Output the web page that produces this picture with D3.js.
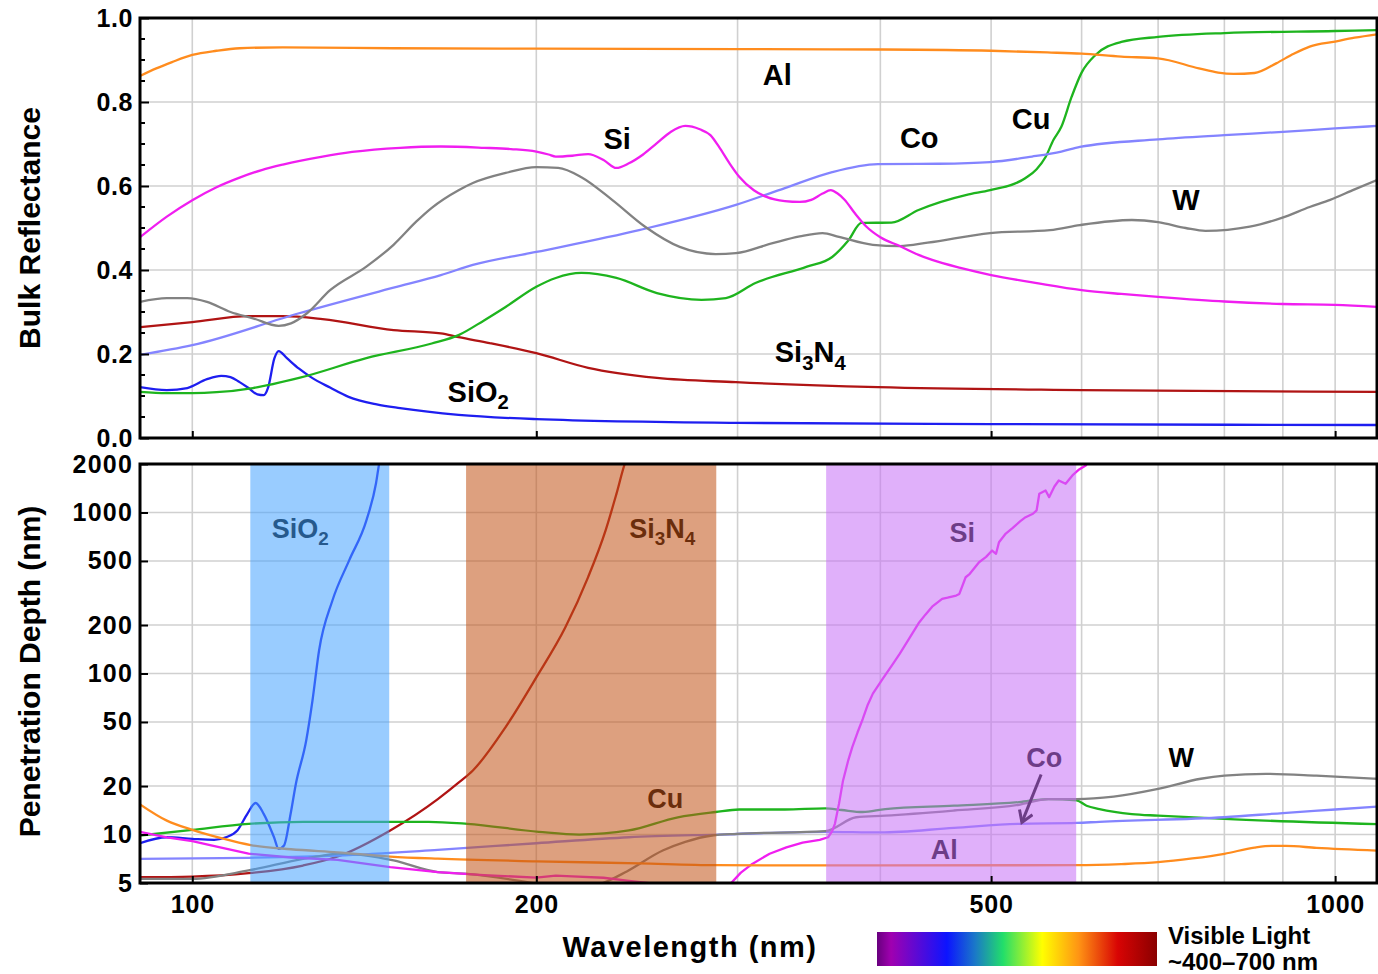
<!DOCTYPE html>
<html>
<head>
<meta charset="utf-8">
<title>Bulk reflectance and penetration depth</title>
<style>
  body { margin: 0; background: #fff; }
  svg text { font-family: "Liberation Sans", Arial, sans-serif; font-weight: bold; fill: #000; }
  .grid line { stroke: #d0d0d0; stroke-width: 1.6; }
  .curve { fill: none; stroke-width: 2.3; stroke-linejoin: round; stroke-linecap: round; }
  .frame { fill: none; stroke: #000; stroke-width: 3; }
  .axis path.domain { display: none; }
  .axis line { stroke: #000; stroke-width: 2; }
</style>
</head>
<body>
<svg width="1378" height="974"></svg>
<script src="https://d3js.org/d3.v7.min.js"></script>
<script>
// ---- data (wavelength nm, value) ----
const reflAl = [[90,0.862],[93,0.88],[96,0.895],[100,0.912],[105,0.922],[110,0.928],[120,0.930],[150,0.928],[200,0.927],[300,0.926],[400,0.925],[500,0.922],[560,0.918],[600,0.915],[650,0.908],[700,0.904],[760,0.88],[790,0.87],[815,0.867],[850,0.869],[888,0.892],[920,0.915],[950,0.932],[1000,0.944],[1040,0.953],[1088,0.961]];
const reflSi = [[90,0.478],[95,0.527],[100,0.566],[105,0.597],[110,0.62],[115,0.638],[120,0.651],[130,0.67],[138,0.681],[152,0.691],[165,0.694],[180,0.691],[190,0.688],[200,0.682],[205,0.675],[208,0.67],[215,0.672],[222,0.676],[229,0.662],[235,0.643],[241,0.654],[248,0.675],[255,0.702],[262,0.728],[270,0.743],[278,0.735],[284,0.721],[289,0.693],[295,0.655],[301,0.622],[310,0.59],[318,0.574],[330,0.564],[340,0.562],[348,0.567],[356,0.582],[362,0.59],[367,0.582],[372,0.568],[380,0.535],[389,0.503],[400,0.478],[416,0.457],[432,0.436],[444,0.424],[470,0.405],[500,0.388],[550,0.368],[600,0.352],[650,0.343],[700,0.336],[800,0.325],[900,0.319],[1000,0.317],[1088,0.312]];
const reflW = [[90,0.324],[95,0.333],[99,0.333],[103,0.324],[108,0.30],[113,0.285],[119,0.267],[122,0.273],[126,0.297],[132,0.352],[142,0.408],[150,0.46],[157,0.515],[162,0.548],[171,0.59],[176,0.607],[188,0.631],[200,0.645],[209,0.643],[219,0.621],[233,0.567],[249,0.503],[267,0.455],[287,0.438],[299,0.44],[322,0.464],[340,0.48],[356,0.488],[368,0.479],[394,0.46],[416,0.457],[440,0.465],[499,0.488],[563,0.495],[598,0.507],[664,0.519],[700,0.514],[740,0.5],[770,0.493],[842,0.503],[898,0.524],[950,0.55],[990,0.567],[1040,0.592],[1088,0.614]];
const reflCo = [[90,0.198],[100,0.221],[124,0.297],[150,0.358],[165,0.388],[176,0.412],[200,0.443],[246,0.495],[299,0.555],[330,0.595],[363,0.633],[398,0.652],[450,0.653],[499,0.657],[543,0.67],[576,0.682],[598,0.693],[700,0.711],[800,0.721],[900,0.729],[1000,0.737],[1088,0.743]];
const reflCu = [[90,0.11],[95,0.107],[100,0.107],[105,0.109],[113,0.119],[124,0.143],[142,0.19],[162,0.225],[171,0.245],[180,0.28],[188,0.312],[200,0.36],[208,0.381],[219,0.393],[235,0.381],[255,0.345],[279,0.329],[293,0.333],[311,0.369],[345,0.408],[363,0.431],[375,0.47],[385,0.512],[409,0.513],[432,0.543],[476,0.579],[499,0.59],[536,0.619],[548,0.64],[558,0.669],[567,0.71],[576,0.741],[588,0.812],[600,0.87],[617,0.912],[650,0.943],[700,0.955],[800,0.964],[1000,0.969],[1088,0.971]];
const reflSi3N4 = [[90,0.264],[100,0.276],[112,0.29],[120,0.29],[130,0.283],[150,0.257],[165,0.249],[171,0.24],[182,0.226],[200,0.202],[222,0.167],[255,0.143],[299,0.133],[398,0.121],[600,0.114],[1088,0.11]];
const reflSiO2 = [[90,0.121],[95,0.114],[99,0.119],[103,0.14],[106,0.148],[108,0.145],[110,0.133],[112,0.119],[114,0.104],[115.5,0.102],[116.5,0.12],[118,0.19],[119,0.207],[121,0.19],[124,0.165],[127,0.145],[132,0.12],[137,0.098],[145,0.08],[152,0.071],[171,0.055],[200,0.045],[300,0.036],[500,0.033],[1088,0.031]];

const depthAl = [[90,15.4],[95,12.2],[100,10.7],[106,9.5],[112.5,8.6],[122,8.1],[134,7.75],[149,7.3],[164,7.08],[200,6.82],[246,6.62],[287,6.45],[400,6.43],[594,6.45],[650,6.55],[700,6.73],[750,7.1],[800,7.59],[850,8.3],[880,8.5],[905,8.5],[963,8.27],[1088,7.95]];
const depthSi = [[90,10.4],[95,9.6],[100,9.1],[106,8.3],[112,7.6],[122,7.2],[134,6.96],[149,6.27],[164,5.84],[180,5.6],[200,5.4],[208,5.56],[215,5.5],[229,5.39],[240,5.18],[250,5.0],[256,4.9],[265,4.6],[275,4.3],[286,4.4],[295,4.85],[302,5.8],[309,6.57],[320,7.6],[331,8.33],[342,8.9],[354,9.27],[360,9.62],[363,10.5],[365,11.65],[368,15.5],[371,21.6],[375,29],[378,34.9],[382,43],[386,52],[390,64],[394,75],[402,93],[410,114],[416,133],[424,165],[432,205],[438,232],[444,260],[453,291],[458,296],[466,305],[469,312],[475,396],[479,416],[488,491],[495,530],[501,580],[505,554],[508,654],[515,740],[522,800],[530,880],[536,935],[544,982],[548,1030],[551,1306],[558,1370],[562,1245],[568,1450],[573,1580],[581,1507],[589,1698],[597,1850],[605,1959],[618,2400]];
const depthW = [[90,5.3],[100,5.3],[112,5.98],[125,7.06],[130,7.4],[135,7.6],[142,7.4],[150,6.9],[164,5.84],[174,5.7],[201,4.94],[215,4.6],[228,4.95],[240,5.9],[258,7.95],[270,9.0],[285,9.86],[300,10.1],[358,10.5],[381,12.8],[404,13.1],[464,14.1],[529,15.3],[561,16.6],[594,16.6],[640,17.2],[700,19.2],[763,22.2],[800,23.2],[870,23.8],[963,23.2],[1088,22.2]];
const depthCo = [[90,7.06],[112,7.17],[134,7.4],[164,8.03],[200,8.83],[241,9.62],[289,10.0],[358,10.4],[400,10.3],[464,11.0],[529,11.65],[594,11.8],[622,12.0],[800,12.8],[900,13.6],[1000,14.3],[1088,14.9]];
const depthCu = [[90,9.86],[100,10.7],[112,11.65],[125,12.0],[140,12.0],[161,12.0],[174,11.65],[201,10.4],[218,10.0],[241,10.6],[266,12.8],[287,13.8],[301,14.3],[330,14.3],[358,14.55],[370,14.2],[386,13.8],[404,14.4],[464,15.1],[529,15.9],[561,16.6],[594,16.3],[606,15.1],[622,14.4],[664,13.4],[700,13.1],[800,12.5],[1088,11.6]];
const depthSi3N4 = [[90,5.43],[100,5.48],[112,5.75],[125,6.42],[134,7.3],[149,10.6],[164,16.6],[171,21],[176,25],[188,46.5],[200,94.6],[212,193],[222,397],[230,777],[235,1300],[239,2000],[245,2800]];
const depthSiO2 = [[90,8.83],[95,9.62],[100,9.4],[104.5,9.27],[107,9.62],[109.5,10.6],[111.7,13.4],[113.6,15.7],[115.5,13.4],[117.9,9.62],[119,8.15],[120.3,8.55],[121.9,13.4],[123.2,20.6],[125.8,38.4],[127.4,68],[129.1,139],[132.6,283],[137.2,506],[142,890],[144.8,1520],[145.7,2000],[147,2600]];

const materials = ["SiO2", "Si3N4", "Cu", "Co", "W", "Si", "Al"];
const reflTicks = [0, 0.2, 0.4, 0.6, 0.8, 1.0];
const depthTicks = [5, 10, 20, 50, 100, 200, 500, 1000, 2000];
const wlTicks = [100, 200, 500, 1000];
const wlGrid = [100, 200, 300, 400, 500, 600, 700, 800, 900, 1000];

// transparency windows drawn over the depth panel
const bandNames = ["SiO2", "Si3N4", "Si"];
const bandFrom = [112.4, 173.6, 358.6];
const bandTo = [148.7, 287.4, 593.5];

// label anchors in data units: [text, wavelength, value]
const topLabels = [["Al",325,0.84],["Si",235.4,0.688],["Co",432.6,0.69],["Cu",542,0.736],["W",740.5,0.543],["Si3N4",347.3,0.181],["SiO2",177.9,0.086]];
const bottomLabels = [["SiO2",124.3,690],["Si3N4",257.8,690],["Si",471.8,660],["Cu",259.3,14.7],["Co",556.5,26.1],["Al",454.9,7.09],["W",733.3,26.1]];
const coArrow = [[553, 23.6], [532, 11.9]];

// ---- styles ----
const color = {Al:"#ff8c1e", Si:"#f01ef0", W:"#828282", Co:"#8484ff", Cu:"#1eb41e", Si3N4:"#b01414", SiO2:"#1e1ef0"};
const bandColor = {SiO2:"#46a2ff", Si3N4:"#c15216", Si:"#c76ff6"};
const refl = {Al:reflAl, Si:reflSi, W:reflW, Co:reflCo, Cu:reflCu, Si3N4:reflSi3N4, SiO2:reflSiO2};
const depth = {Al:depthAl, Si:depthSi, W:depthW, Co:depthCo, Cu:depthCu, Si3N4:depthSi3N4, SiO2:depthSiO2};

const svg = d3.select("svg");
const left = 140, right = 1377;
const top1 = 18, bot1 = 438, top2 = 464, bot2 = 883;

const x = d3.scaleLog().domain([90, 1088]).range([left, right]);
const yTop = d3.scaleLinear().domain([0, 1]).range([bot1, top1]);
const yBot = d3.scaleLog().domain([5, 2000]).range([bot2, top2]);

const defs = svg.append("defs");
defs.append("clipPath").attr("id", "clipTop").append("rect")
  .attr("x", left).attr("y", top1).attr("width", right - left).attr("height", bot1 - top1);
defs.append("clipPath").attr("id", "clipBot").append("rect")
  .attr("x", left).attr("y", top2).attr("width", right - left).attr("height", bot2 - top2);

// write names like Si3N4 with subscript digits
function chem(t, name, size) {
  let sub = false;
  name.match(/[A-Za-z]+|\d+/g).forEach(p => {
    const s = t.append("tspan").text(p);
    if (/\d/.test(p)) { s.attr("font-size", size * 0.7).attr("dy", size * 0.26); sub = true; }
    else if (sub) { s.attr("dy", -size * 0.26); sub = false; }
  });
}

// ---------- top panel ----------
const g1 = svg.append("g");
const grid1 = g1.append("g").attr("class", "grid");
grid1.selectAll(".v").data(wlGrid).enter().append("line")
  .attr("x1", d => x(d)).attr("x2", d => x(d)).attr("y1", top1).attr("y2", bot1);
grid1.selectAll(".h").data([0.2, 0.4, 0.6, 0.8]).enter().append("line")
  .attr("x1", left).attr("x2", right).attr("y1", d => yTop(d)).attr("y2", d => yTop(d));

const lineTop = d3.line().x(d => x(d[0])).y(d => yTop(d[1])).curve(d3.curveMonotoneX);
g1.append("g").attr("clip-path", "url(#clipTop)")
  .selectAll("path").data(materials).enter().append("path")
  .attr("class", "curve").attr("stroke", d => color[d]).attr("d", d => lineTop(refl[d]));

g1.selectAll(".lab").data(topLabels).enter().append("text")
  .attr("x", d => x(d[1])).attr("y", d => yTop(d[2]))
  .attr("text-anchor", "middle").attr("font-size", 29)
  .each(function(d) { chem(d3.select(this), d[0], 29); });

// left axis with minor ticks
const axTop = g1.append("g").attr("class", "axis").attr("transform", `translate(${left},0)`)
  .call(d3.axisLeft(yTop).tickValues(reflTicks).tickFormat(d3.format(".1f")).tickSize(-9).tickPadding(7));
axTop.selectAll("text").attr("font-size", 25).attr("letter-spacing", 0.6);
g1.append("g").attr("class", "axis").selectAll("line")
  .data(d3.range(0.05, 1, 0.05).filter(v => Math.abs(v * 5 - Math.round(v * 5)) > 1e-6))
  .enter().append("line").attr("x1", left).attr("x2", left + 5)
  .attr("y1", d => yTop(d)).attr("y2", d => yTop(d));
g1.append("g").attr("class", "axis").attr("transform", `translate(0,${bot1})`)
  .call(d3.axisBottom(x).tickValues(wlTicks).tickFormat("").tickSize(-7));
g1.append("rect").attr("class", "frame")
  .attr("x", left).attr("y", top1).attr("width", right - left).attr("height", bot1 - top1);

// ---------- bottom panel ----------
const g2 = svg.append("g");
const grid2 = g2.append("g").attr("class", "grid");
grid2.selectAll(".v").data(wlGrid).enter().append("line")
  .attr("x1", d => x(d)).attr("x2", d => x(d)).attr("y1", top2).attr("y2", bot2);
grid2.selectAll(".h").data([10, 20, 50, 100, 200, 500, 1000]).enter().append("line")
  .attr("x1", left).attr("x2", right).attr("y1", d => yBot(d)).attr("y2", d => yBot(d));

const lineBot = d3.line().x(d => x(d[0])).y(d => yBot(d[1])).curve(d3.curveMonotoneX);
const lineJag = d3.line().x(d => x(d[0])).y(d => yBot(d[1]));   // Si data is noisy, keep it sharp
g2.append("g").attr("clip-path", "url(#clipBot)")
  .selectAll("path").data(materials).enter().append("path")
  .attr("class", "curve").attr("stroke", d => color[d])
  .attr("d", d => (d === "Si" ? lineJag : lineBot)(depth[d]));

g2.selectAll(".lab").data(bottomLabels).enter().append("text")
  .attr("x", d => x(d[1])).attr("y", d => yBot(d[2]))
  .attr("text-anchor", "middle").attr("font-size", 27)
  .each(function(d) { chem(d3.select(this), d[0], 27); });

// arrow from the Co label to its curve
defs.append("marker").attr("id", "head").attr("markerUnits", "userSpaceOnUse")
  .attr("markerWidth", 20).attr("markerHeight", 20).attr("refX", 13).attr("refY", 8)
  .attr("orient", "auto")
  .append("path").attr("d", "M2,1 L13,8 L2,15").attr("fill", "none")
  .attr("stroke", "#000").attr("stroke-width", 3);
g2.append("line")
  .attr("x1", x(coArrow[0][0])).attr("y1", yBot(coArrow[0][1]))
  .attr("x2", x(coArrow[1][0])).attr("y2", yBot(coArrow[1][1]))
  .attr("stroke", "#000").attr("stroke-width", 3).attr("marker-end", "url(#head)");

// translucent bands on top of curves and labels
g2.selectAll(".band").data(bandNames).enter().append("rect")
  .attr("x", (d, i) => x(bandFrom[i])).attr("width", (d, i) => x(bandTo[i]) - x(bandFrom[i]))
  .attr("y", top2).attr("height", bot2 - top2)
  .attr("fill", d => bandColor[d]).attr("fill-opacity", 0.55);

const axBot = g2.append("g").attr("class", "axis").attr("transform", `translate(${left},0)`)
  .call(d3.axisLeft(yBot).tickValues(depthTicks).tickFormat(d3.format("d")).tickSize(-8).tickPadding(7));
axBot.selectAll("text").attr("font-size", 25).attr("letter-spacing", 1.2);
const axX = g2.append("g").attr("class", "axis").attr("transform", `translate(0,${bot2})`)
  .call(d3.axisBottom(x).tickValues(wlTicks).tickFormat(d3.format("d")).tickSize(-7).tickPadding(12));
axX.selectAll("text").attr("font-size", 25).attr("letter-spacing", 0.8);
g2.append("rect").attr("class", "frame")
  .attr("x", left).attr("y", top2).attr("width", right - left).attr("height", bot2 - top2);

// ---------- titles ----------
svg.append("text").attr("transform", `translate(40,${(top1 + bot1) / 2}) rotate(-90)`)
  .attr("text-anchor", "middle").attr("font-size", 30).text("Bulk Reflectance");
svg.append("text").attr("transform", `translate(40,${(top2 + bot2) / 2 - 2}) rotate(-90)`)
  .attr("text-anchor", "middle").attr("font-size", 30).text("Penetration Depth (nm)");
svg.append("text").attr("x", 690).attr("y", 957).attr("text-anchor", "middle")
  .attr("font-size", 29).attr("letter-spacing", 1.5).text("Wavelength (nm)");

// ---------- visible light key ----------
const spectrum = [[0, "#68007e"], [0.05, "#a000b0"], [0.25, "#0c14ff"], [0.35, "#1a78c8"], [0.45, "#22de6a"], [0.59, "#ffff00"], [0.72, "#ff9414"], [0.86, "#d80404"], [1, "#8a0000"]];
const grad = defs.append("linearGradient").attr("id", "visible");
grad.selectAll("stop").data(spectrum).enter().append("stop")
  .attr("offset", d => d[0]).attr("stop-color", d => d[1]);
svg.append("rect").attr("x", 877).attr("y", 932).attr("width", 280).attr("height", 34)
  .attr("fill", "url(#visible)");
svg.append("text").attr("x", 1168).attr("y", 944).attr("font-size", 24).text("Visible Light");
svg.append("text").attr("x", 1168).attr("y", 970).attr("font-size", 24).text("~400\u2013700 nm");
</script>
</body>
</html>
